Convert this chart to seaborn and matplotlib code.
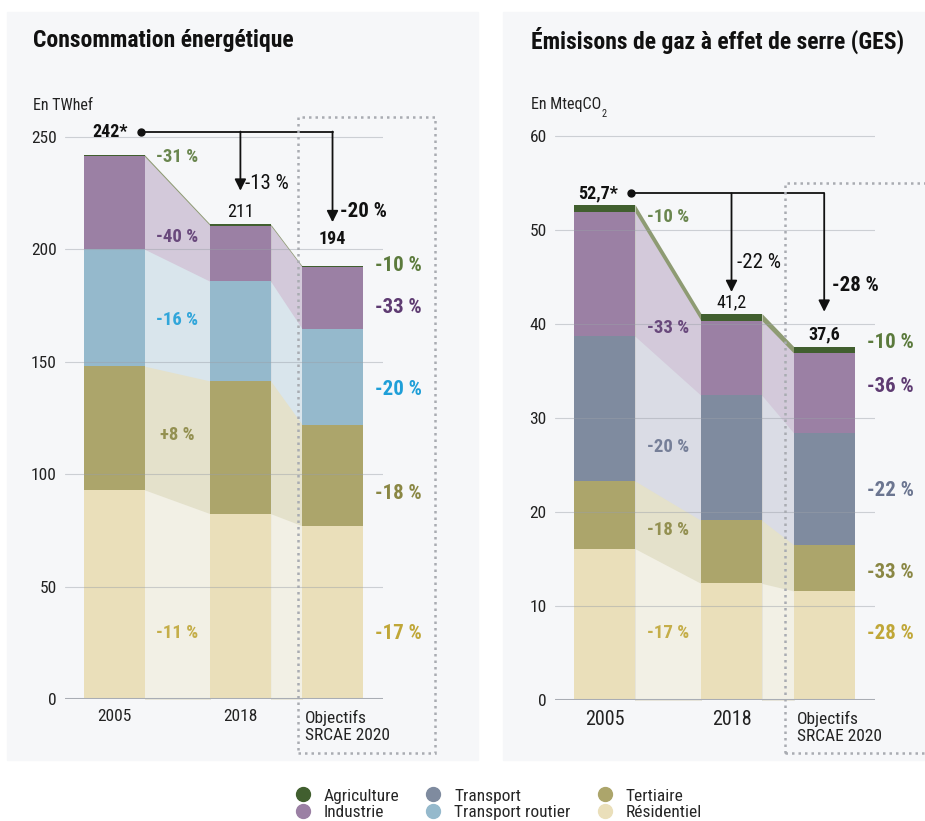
import numpy as np
import matplotlib.pyplot as plt
from matplotlib.patches import Rectangle
from matplotlib.lines import Line2D
import seaborn as sns

sns.set_theme(style="white")
# condensed face like the original; falls back if a family is missing
plt.rcParams['font.family'] = ['Roboto Condensed', 'Liberation Sans Narrow', 'Roboto', 'DejaVu Sans']

# ---- data -------------------------------------------------------------
periods = ["2005", "2018", "Objectifs\nSRCAE 2020"]
period_pos = [0.0, 1.0, 1.73]     # the 2020 target sits closer to 2018

sectors = ["Agriculture", "Industrie", "Transport", "Transport routier", "Tertiaire", "Résidentiel"]

# Consommation énergétique (TWhef), bottom -> top
energy_residentiel = [93.0, 82.4, 77.0]
energy_tertiaire = [55.0, 59.0, 45.0]
energy_routier = [52.0, 44.3, 42.5]
energy_industrie = [41.3, 24.8, 27.5]
energy_agriculture = [0.7, 0.6, 0.5]
energy_totals = ["242*", "211", "194"]
energy_changes = ["-13 %", "-20 %"]
energy_pct_2018 = ["-31 %", "-40 %", "-16 %", "+8 %", "-11 %"]
energy_pct_2020 = ["-10 %", "-33 %", "-20 %", "-18 %", "-17 %"]

# Émissions de GES (MteqCO2), bottom -> top
ges_residentiel = [16.1, 12.4, 11.6]
ges_tertiaire = [7.2, 6.7, 4.9]
ges_transport = [15.4, 13.3, 11.9]
ges_industrie = [13.2, 7.95, 8.5]
ges_agriculture = [0.8, 0.75, 0.7]
ges_totals = ["52,7*", "41,2", "37,6"]
ges_changes = ["-22 %", "-28 %"]
ges_pct_2018 = ["-10 %", "-33 %", "-20 %", "-18 %", "-17 %"]
ges_pct_2020 = ["-10 %", "-36 %", "-22 %", "-33 %", "-28 %"]

# ---- styles -----------------------------------------------------------
bar_colors = {"Agriculture": "#415f2f", "Industrie": "#9b80a4", "Transport": "#7f8b9f",
              "Transport routier": "#95b9cc", "Tertiaire": "#aca56b", "Résidentiel": "#eadfba"}
band_colors = {"Agriculture": "#8e9b73", "Industrie": "#d3c9da", "Transport": "#dadce5",
               "Transport routier": "#d9e5ec", "Tertiaire": "#e4e1cb", "Résidentiel": "#f2f0e5"}
text_colors = {"Agriculture": "#5b7a3c", "Industrie": "#5e3b72", "Transport": "#6b7590",
               "Transport routier": "#1f9fd8", "Tertiaire": "#8a8744", "Résidentiel": "#c0a738"}

BAR_W = 0.48
W, H = 925, 821
PANEL = "#f6f7f9"
INK = "#111111"


def fx(px):
    return px / W


def fy(py):
    return 1 - py / H


fig = plt.figure(figsize=(9.25, 8.21), dpi=100, facecolor="white")

# light panels behind each chart
for x0, x1 in [(7, 478), (503, 925)]:
    fig.patches.append(Rectangle((fx(x0), fy(760)), fx(x1 - x0), (760 - 12) / H,
                                 transform=fig.transFigure, color=PANEL, zorder=-5))


def draw_stack(ax, layers):
    x = np.array(period_pos)
    vals = np.array([v for _, v in layers])
    tops = np.cumsum(vals, axis=0)
    half = BAR_W / 2
    gap = np.min(np.diff(x))
    # bands between bars, tallest first so each layer keeps its own strip
    for k in reversed(range(len(layers))):
        name = layers[k][0]
        for i in range(len(x) - 1):
            ax.fill_between([x[i] + half, x[i + 1] - half], 0, [tops[k][i], tops[k][i + 1]],
                            color=band_colors[name], lw=0, zorder=1)
    for k in reversed(range(len(layers))):
        name = layers[k][0]
        sns.barplot(x=x, y=tops[k], native_scale=True, orient="x", width=BAR_W / gap,
                    color=bar_colors[name], saturation=1, errorbar=None, linewidth=0,
                    ax=ax, zorder=2)
    return tops


def style_axes(ax, ymax, ystep, xlabel_size):
    ax.set_xlim(-0.39, 2.13)
    ax.set_ylim(0, ymax)
    ax.set_yticks(np.arange(0, ymax, ystep))
    ax.set_facecolor("none")
    for s in ax.spines.values():
        s.set_visible(False)
    ax.grid(axis="y", color="#9aa0a8", lw=0.8, alpha=0.45)
    ax.grid(axis="x", visible=False)
    ax.set_axisbelow(False)
    ax.axhline(0, color="#a9adb4", lw=2.2, zorder=3)
    ax.set_xticks(period_pos[:2], periods[:2])
    ax.tick_params(axis="y", length=0, pad=6, labelsize=12.5, labelcolor="#222222")
    ax.tick_params(axis="x", length=0, pad=7, labelsize=xlabel_size, labelcolor="#222222")
    ax.set_xlabel("")
    ax.set_ylabel("")
    ax.annotate(periods[2], xy=(period_pos[2] - BAR_W / 2, 0), xytext=(2, -8),
                textcoords="offset points", ha="left", va="top", fontsize=12.5,
                color="#222222", linespacing=1.15)


def draw_arrows(ax, totals, changes, x_dot, line_y, ends, change_pos, total_pos):
    xs = period_pos
    ax.plot([x_dot, xs[2]], [line_y, line_y], color=INK, lw=1.3, zorder=5)
    ax.plot([x_dot], [line_y], "o", color=INK, ms=5, zorder=5)
    for xi, ye in zip(xs[1:], ends):
        ax.annotate("", xy=(xi, ye), xytext=(xi, line_y),
                    arrowprops=dict(arrowstyle="-|>", color=INK, lw=1.3,
                                    mutation_scale=17, shrinkA=0, shrinkB=0), zorder=5)
    ax.text(x_dot - 0.1, line_y, totals[0], ha="right", va="center", fontsize=13,
            weight="bold", color=INK)
    ax.text(xs[1] + 0.04, change_pos[0], changes[0], ha="left", va="center", fontsize=15,
            color=INK)
    ax.text(xs[2] + 0.06, change_pos[1], changes[1], ha="left", va="center", fontsize=15,
            weight="bold", color=INK)
    ax.text(xs[1], total_pos[0], totals[1], ha="center", va="center", fontsize=13,
            color=INK)
    ax.text(xs[2], total_pos[1], totals[2], ha="center", va="center", fontsize=13,
            weight="bold", color=INK)


def pct_labels(ax, names, mid_labels, mid_y, right_labels, right_y):
    for n, t, y in zip(names, mid_labels, mid_y):
        ax.text(0.5, y, t, ha="center", va="center", fontsize=13.5, weight="bold",
                color=text_colors[n], alpha=0.9, zorder=6)
    for n, t, y in zip(names, right_labels, right_y):
        ax.text(2.07, y, t, ha="left", va="center", fontsize=15, weight="bold",
                color=text_colors[n], zorder=6, clip_on=False)


# ---- left: energy -----------------------------------------------------
ax1 = fig.add_axes([fx(65), fy(699), fx(318), 596 / H])
draw_stack(ax1, [("Résidentiel", energy_residentiel), ("Tertiaire", energy_tertiaire),
                 ("Transport routier", energy_routier), ("Industrie", energy_industrie),
                 ("Agriculture", energy_agriculture)])
style_axes(ax1, 265, 50, 12.5)
draw_arrows(ax1, energy_totals, energy_changes, 0.21, 252.3, [226, 212],
            [229, 216.7], [216.7, 204.7])
pct_labels(ax1, ["Agriculture", "Industrie", "Transport routier", "Tertiaire", "Résidentiel"],
           energy_pct_2018, [240.8, 205.2, 168.3, 117.2, 29.2],
           energy_pct_2020, [192.8, 174.1, 137.6, 91.4, 29.2])

# ---- right: GES -------------------------------------------------------
ax2 = fig.add_axes([fx(555), fy(700), fx(320), 596 / H])
draw_stack(ax2, [("Résidentiel", ges_residentiel), ("Tertiaire", ges_tertiaire),
                 ("Transport", ges_transport), ("Industrie", ges_industrie),
                 ("Agriculture", ges_agriculture)])
style_axes(ax2, 63.4, 10, 14.5)
draw_arrows(ax2, ges_totals, ges_changes, 0.21, 53.9, [43.4, 41.3],
            [46.5, 44.1], [42.3, 38.9])
pct_labels(ax2, ["Agriculture", "Industrie", "Transport", "Tertiaire", "Résidentiel"],
           ges_pct_2018, [51.4, 39.6, 26.9, 18.1, 7.1],
           ges_pct_2020, [38.0, 33.3, 22.3, 13.6, 7.1])

# dotted frames around the 2020 targets
for x0, x1, y0 in [(298, 435, 117), (785, 935, 183)]:
    fig.patches.append(Rectangle((fx(x0), fy(753)), fx(x1 - x0), (753 - y0) / H,
                                 transform=fig.transFigure, fill=False, ec="#a9acb2",
                                 lw=1.8, ls=(0, (1, 1.6)), zorder=10))

# titles and units
fig.text(fx(33), fy(40), "Consommation énergétique", fontsize=17, weight="bold",
         va="center", color=INK)
fig.text(fx(531), fy(40), "Émisisons de gaz à effet de serre (GES)", fontsize=17,
         weight="bold", va="center", color=INK)
fig.text(fx(33), fy(105), "En TWhef", fontsize=11.5, va="center", color="#222222")
unit = fig.text(fx(531), fy(105), "En MteqCO", fontsize=11.5, va="center", color="#222222")
plt.annotate("2", xy=(1, 0), xycoords=unit, xytext=(0.5, -1), textcoords="offset points",
             fontsize=7.5, va="center", ha="left", color="#222222", annotation_clip=False)

# legend
handles = [Line2D([], [], marker="o", ls="", ms=10, color=bar_colors[s]) for s in sectors]
fig.legend(handles, sectors, ncol=3, loc="center", bbox_to_anchor=(fx(498), fy(804)),
           frameon=False, fontsize=12.5, handletextpad=0.7, columnspacing=1.45,
           labelspacing=0.05, handlelength=1.0, borderpad=0)

fig.savefig("out.png", dpi=100, facecolor="white")
